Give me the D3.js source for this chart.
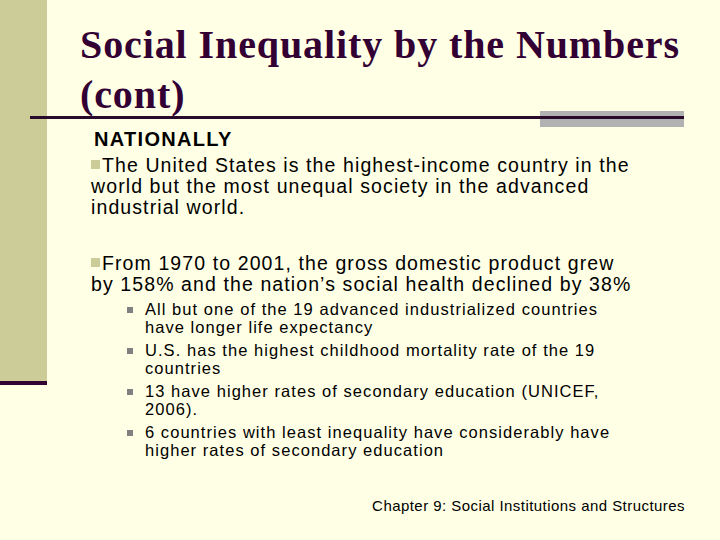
<!DOCTYPE html><html><head><meta charset="utf-8"><script src="https://cdn.jsdelivr.net/npm/d3@7"></script>
<style>body{margin:0;background:#FFFFE5}</style></head><body><script>
const titleLines=["Social Inequality by the Numbers","(cont)"];
const heading="NATIONALLY";
const para1=["The United States is the highest-income country in the","world but the most unequal society in the advanced","industrial world."];
const para2=["From 1970 to 2001, the gross domestic product grew","by 158% and the nation’s social health declined by 38%"];
const subBullets=[["All but one of the 19 advanced industrialized countries","have longer life expectancy"],["U.S. has the highest childhood mortality rate of the 19","countries"],["13 have higher rates of secondary education (UNICEF,","2006)."],["6 countries with least inequality have considerably have","higher rates of secondary education"]];
const footer="Chapter 9: Social Institutions and Structures";
const svg=d3.select("body").append("svg").attr("width",720).attr("height",540);
svg.append("rect").attr("width",720).attr("height",540).attr("fill","#FFFFE5");
svg.append("rect").attr("x",0).attr("y",0).attr("width",47).attr("height",383).attr("fill","#CCCC99");
svg.append("rect").attr("x",0).attr("y",381).attr("width",47).attr("height",4).attr("fill","#330033");
svg.append("rect").attr("x",540).attr("y",111).attr("width",144).attr("height",16).attr("fill","#B2B2B2");
svg.append("rect").attr("x",30).attr("y",116).attr("width",654).attr("height",3).attr("fill","#2A0A2A");
svg.selectAll(".t").data(titleLines).join("text").attr("x",80).attr("y",(d,i)=>58+i*50)
 .attr("font-family","Liberation Serif").attr("font-weight","bold").attr("font-size",40).attr("letter-spacing",0.9).attr("fill","#330033").text(d=>d);
const sans="Liberation Sans";
svg.append("text").attr("x",94).attr("y",146).attr("font-family",sans).attr("font-weight","bold").attr("font-size",20).attr("fill","#000").attr("letter-spacing",1.3).text(heading);
function para(lines,y0){
 svg.append("rect").attr("x",91).attr("y",y0-12).attr("width",9).attr("height",9).attr("fill","#CCCC99");
 lines.forEach((l,i)=>svg.append("text").attr("x",i?91:102).attr("y",y0+i*21).attr("font-family",sans).attr("font-size",19.5).attr("letter-spacing",1.1).attr("fill","#000").text(l));
}
para(para1,172);para(para2,270);
let y=315;
subBullets.forEach(b=>{
 svg.append("rect").attr("x",127).attr("y",y-8).attr("width",6).attr("height",6).attr("fill","#808080");
 b.forEach((l,i)=>svg.append("text").attr("x",145).attr("y",y+i*18).attr("font-family",sans).attr("font-size",16.5).attr("letter-spacing",1.05).attr("fill","#000").text(l));
 y+=41;
});
svg.append("text").attr("x",685).attr("y",511).attr("text-anchor","end").attr("font-family",sans).attr("font-size",15).attr("letter-spacing",0.45).attr("fill","#000").text(footer);
</script></body></html>
